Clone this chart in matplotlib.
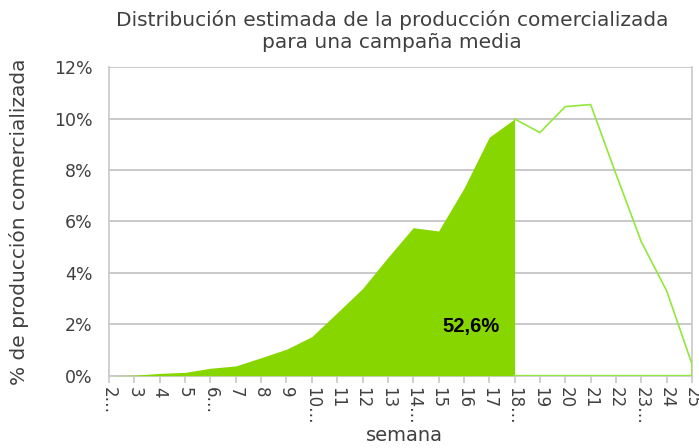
import matplotlib.pyplot as plt
from matplotlib.ticker import FuncFormatter

# datos (% por semana)
semanas = list(range(2, 26))
etiquetas = ["2…", "3", "4", "5", "6…", "7", "8", "9", "10…", "11", "12", "13",
             "14…", "15", "16", "17", "18…", "19", "20", "21", "22", "23…", "24", "25"]
comercializado = [0.0, 0.02, 0.09, 0.13, 0.29, 0.38, 0.70, 1.03, 1.52, 2.45, 3.39, 4.60,
                  5.76, 5.63, 7.29, 9.28, 9.99]  # semanas 2-18
resto = [9.99, 9.46, 10.47, 10.55, 7.85, 5.21, 3.30, 0.45]  # semanas 18-25
acumulado = "52,6%"

gris = "#404040"
verde = "#88d600"
verde_linea = "#92e83a"

fig = plt.figure(figsize=(6.99, 4.48), dpi=100)
ax = fig.add_axes([0.156, 0.1614, 0.834, 0.6884])

x1 = semanas[:len(comercializado)]
x2 = semanas[len(comercializado) - 1:]
ax.fill_between(x1, comercializado, 0, color=verde, linewidth=0, zorder=3)
ax.plot(x2 + [x2[-1], x2[0]], resto + [0, 0], color=verde_linea, lw=1.2, zorder=4)

ax.set_xlim(2, 25)
ax.set_ylim(0, 12)
ax.set_yticks(range(0, 13, 2))
ax.yaxis.set_major_formatter(FuncFormatter(lambda v, p: f"{v:.0f}%"))
ax.set_xticks(semanas)
ax.set_xticklabels(etiquetas, rotation=-90)

ax.grid(axis="y", color="#c0c0c0", lw=1.2, zorder=0)
for s in ["left", "right", "bottom"]:
    ax.spines[s].set_color("#c8c8c8")
    ax.spines[s].set_linewidth(1.2)
ax.spines["top"].set_visible(False)
ax.tick_params(axis="x", colors="#c8c8c8", labelcolor=gris, labelsize=12, length=5, width=1.2)
ax.tick_params(axis="y", length=0, labelcolor=gris, labelsize=12.5, pad=12)

ax.text(16.3, 1.9, acumulado, fontsize=14.5, fontweight="bold", family="Liberation Sans",
        ha="center", va="center", color="black", zorder=5)

ax.set_title("Distribución estimada de la producción comercializada\npara una campaña media",
             fontsize=14.5, color=gris, pad=14, linespacing=1.2, x=0.485)
ax.set_ylabel("% de producción comercializada", fontsize=14.5, color=gris, labelpad=18)
fig.text(0.5 + 0.078, 0.028, "semana", fontsize=14, color=gris, ha="center", va="center")

fig.savefig("out.png", dpi=100)
